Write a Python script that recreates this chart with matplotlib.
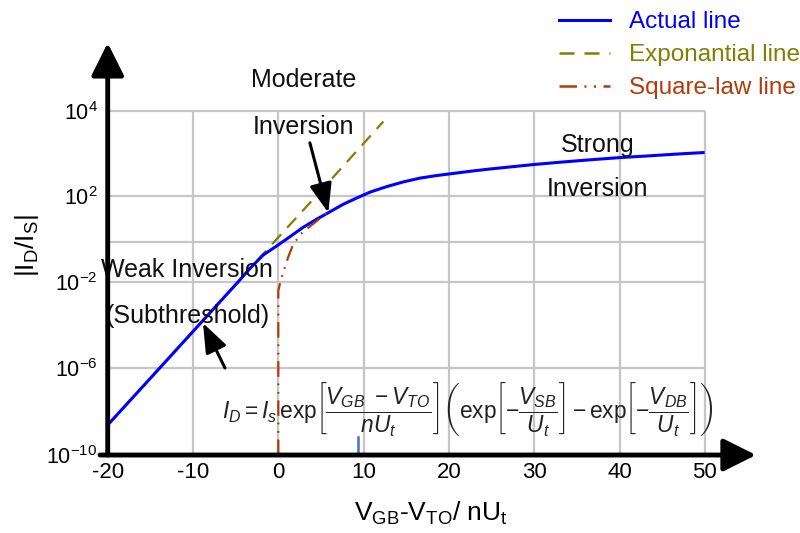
import numpy as np
import matplotlib
matplotlib.use('Agg')
import matplotlib.pyplot as plt
from matplotlib.lines import Line2D

plt.rcParams['font.family'] = ['Liberation Sans', 'DejaVu Sans']
plt.rcParams['mathtext.fontset'] = 'custom'
plt.rcParams['mathtext.rm'] = 'Liberation Sans'
plt.rcParams['mathtext.it'] = 'Liberation Sans:italic'
plt.rcParams['mathtext.bf'] = 'Liberation Sans:bold'

# x = (VGB - VTO) / nUt, y = log10(|ID/IS|)
actual_x = [-20, -13.9, -4.72, -3.32, -1.76, -0.19, 1.37, 2.93, 4.50, 5.86, 7.62, 9.19,
            10.75, 12.71, 14.65, 16.61, 18.57, 20.52, 22.47, 24.62, 27.55, 29.98,
            33.41, 36.54, 39.86, 43.19, 47.1, 49.8]
actual_y = [-8.62, -6.0, -2.0, -1.32, -0.65, -0.2, 0.23, 0.64, 0.99, 1.27, 1.64, 1.91,
            2.09, 2.22, 2.33, 2.42, 2.48, 2.53, 2.58, 2.63, 2.69, 2.74,
            2.80, 2.85, 2.90, 2.94, 2.99, 3.02]

expo_x = [-20, -13.9, -4.75, -0.5, 4.45, 12.31]
expo_y = [-8.62, -6.0, -2.0, 0.0, 2.0, 3.75]

square_x = [0, 0, 0.3, 0.6, 1.17, 1.76, 2.74, 3.92, 5.67]
square_y = [-10, -2.4, -1.9, -1.5, -0.74, -0.1, 0.38, 0.74, 1.25]

# short blue mark sitting on the x axis near 10
mark_x = [9.4, 9.4]
mark_y = [-10, -9.17]

x_ticks = [-20, -10, 0, 10, 20, 30, 40, 50]
y_ticks = [-10, -6, -2, 2, 4]
y_tick_labels = [r'$10^{-10}$', r'$10^{-6}$', r'$10^{-2}$', r'$10^{2}$', r'$10^{4}$']
y_grid = [-6, -2, 0, 2, 4]

legend_labels = ['Actual line', 'Exponantial line', 'Square-law line']
blue, olive, brown = '#0000ff', '#808000', '#b03c0c'

# the printed axis is not evenly spaced per decade, so map decades piecewise
DEC = [-14, -10, -6, -2, 0, 2, 4, 8]
POS = [-87, 0, 87, 173, 213, 259, 344, 514]


def fwd(v):
    return np.interp(v, DEC, POS)


def inv(p):
    return np.interp(p, POS, DEC)


fig = plt.figure(figsize=(8, 5.33), dpi=100)
ax = fig.add_axes([0.1325, 0.1463, 0.8125, 0.7692])
ax.set_yscale('function', functions=(fwd, inv))
ax.set_xlim(-20.2, 56)
ax.set_ylim(-10, 5.55)

# grid only inside the -20..50 / 1e-10..1e4 box
ax.hlines(y_grid, -20, 50, color='#c6c6c6', lw=1.6, zorder=0)
ax.vlines(x_ticks[1:], -10, 4, color='#c6c6c6', lw=1.6, zorder=0)

ax.plot(expo_x, expo_y, color=olive, lw=1.6, ls=(0, (6, 4)), zorder=2)
ax.plot(actual_x, actual_y, color=blue, lw=2.2, zorder=3)
ax.plot(square_x, square_y, color=brown, lw=1.6, ls=(0, (7, 3, 0.8, 3, 0.8, 3)), zorder=4)
ax.plot(mark_x, mark_y, color='#4472c4', lw=1.8, zorder=4)

for s in ax.spines.values():
    s.set_visible(False)
ax.set_xticks(x_ticks)
ax.set_xticklabels([str(v) for v in x_ticks])
ax.set_yticks(y_ticks)
ax.set_yticklabels(y_tick_labels)
ax.yaxis.set_minor_locator(matplotlib.ticker.NullLocator())
ax.tick_params(axis='x', length=0, pad=5, labelsize=16)
ax.tick_params(axis='y', length=0, pad=6, labelsize=15.5)

# axes drawn as arrows
arrow = dict(arrowstyle='-|>,head_length=1.0,head_width=0.5', lw=3.5, color='k',
             mutation_scale=20, shrinkA=0, shrinkB=0)
ax.annotate('', xy=(-20, 5.6), xytext=(-20, -10), arrowprops=arrow, annotation_clip=False, zorder=6)
ax.annotate('', xy=(56.0, -10), xytext=(-20.9, -10), arrowprops=arrow, annotation_clip=False, zorder=6)

ax.set_xlabel(r'$\mathrm{V_{GB}}$-$\mathrm{V_{TO}}$/ nU$_\mathrm{t}$', fontsize=19, labelpad=12)
ax.set_ylabel(r'$|\mathrm{I_D/I_S}|$', fontsize=19)
ax.yaxis.set_label_coords(-0.1, 0.512)

txt = dict(fontsize=18, ha='center', va='center', color='#111111')
ax.text(3.0, 4.73, 'Moderate', **txt)
ax.text(3.0, 3.62, 'Inversion', **txt)
ax.text(37.4, 3.2, 'Strong', **txt)
ax.text(37.4, 2.16, 'Inversion', **txt)
ax.text(-10.7, -1.4, 'Weak Inversion', **txt)
ax.text(-10.6, -3.58, '(Subthreshold)', **txt)

pointer = dict(arrowstyle='-|>,head_length=1.0,head_width=0.38', lw=2.2, color='k',
               mutation_scale=18, shrinkA=0, shrinkB=0)
ax.annotate('', xy=(5.86, 1.27), xytext=(3.7, 3.25), arrowprops=pointer, zorder=7)
ax.annotate('', xy=(-8.83, -3.91), xytext=(-6.25, -6.0), arrowprops=pointer, zorder=7)

formula = (r'$I_D = I_s\,\mathrm{exp}\left[\dfrac{V_{GB}\ -V_{TO}}{nU_t}\right]'
           r'\left(\mathrm{exp}\left[-\dfrac{V_{SB}}{U_t}\right]-\mathrm{exp}\left[-\dfrac{V_{DB}}{U_t}\right]\right)$')
ax.text(22.2, -7.93, formula, fontsize=16.4, ha='center', va='center', color='#222222', zorder=5)

handles = [Line2D([], [], color=blue, lw=2.2),
           Line2D([], [], color=olive, lw=1.8, ls=(0, (6, 4))),
           Line2D([], [], color=brown, lw=1.8, ls=(0, (7, 3, 0.8, 3, 0.8, 3)))]
leg = fig.legend(handles, legend_labels, loc='upper right', bbox_to_anchor=(1.0, 0.979),
                 frameon=False, fontsize=17.5, handlelength=2.06, handletextpad=0.8,
                 labelspacing=0.45, borderaxespad=0.0, borderpad=0.0)
for t, c in zip(leg.get_texts(), [blue, olive, brown]):
    t.set_color(c)

fig.savefig('out.png', dpi=100)
